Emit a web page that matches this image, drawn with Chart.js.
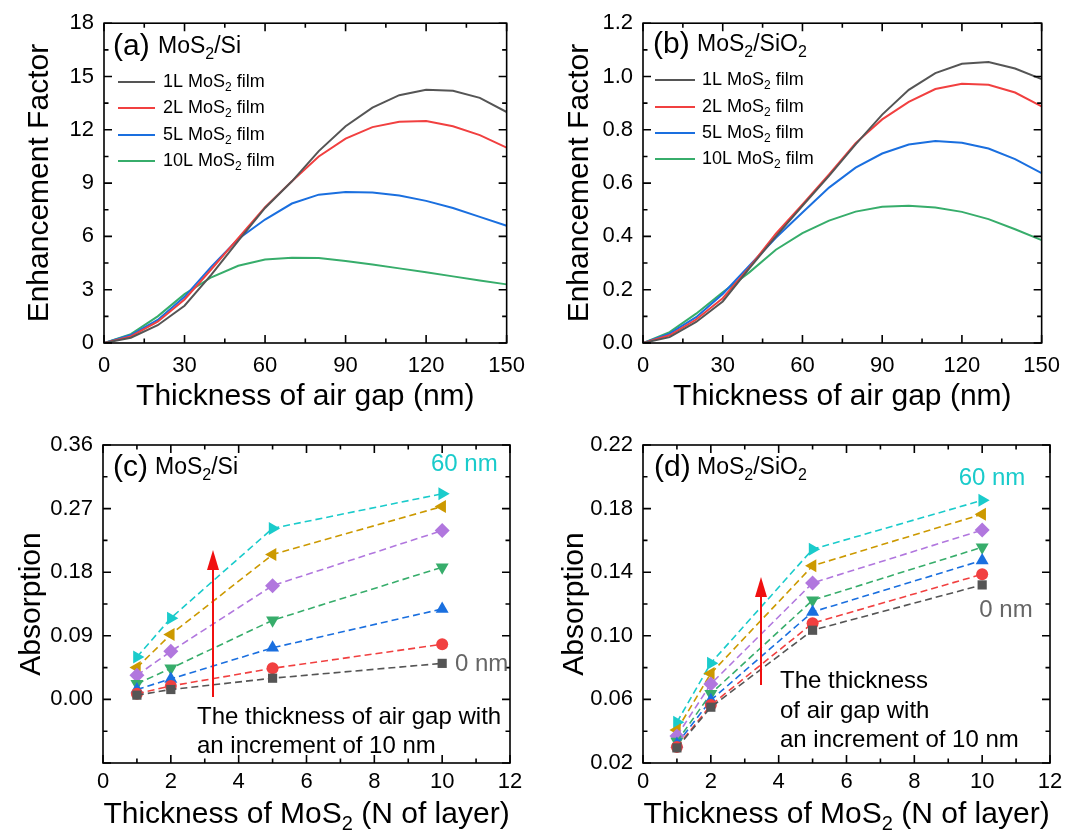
<!DOCTYPE html>
<html>
<head>
<meta charset="utf-8">
<script src="https://cdn.jsdelivr.net/npm/chart.js@4/dist/chart.umd.min.js"></script>
<style>
body { margin: 0; background: #fff; }
#wrap { position: relative; width: 1070px; height: 839px; }
canvas { position: absolute; }
</style>
</head>
<body>
<div id="wrap">
  <canvas id="cA" width="535" height="420" style="left:0;top:0"></canvas>
  <canvas id="cB" width="535" height="420" style="left:535px;top:0"></canvas>
  <canvas id="cC" width="535" height="419" style="left:0;top:420px"></canvas>
  <canvas id="cD" width="535" height="419" style="left:535px;top:420px"></canvas>
</div>
<script>
// ---- data ----
const gapNm = [0, 10, 20, 30, 40, 50, 60, 70, 80, 90, 100, 110, 120, 130, 140, 150];

// (a) MoS2/Si enhancement factor
const efSi1L  = [0, 0.3, 1.0, 2.1, 3.85, 5.75, 7.6, 9.1, 10.8, 12.2, 13.25, 13.95, 14.25, 14.2, 13.8, 13.0];
const efSi2L  = [0, 0.37, 1.2, 2.45, 4.15, 5.9, 7.65, 9.1, 10.5, 11.5, 12.15, 12.45, 12.5, 12.2, 11.7, 11.0];
const efSi5L  = [0, 0.45, 1.3, 2.6, 4.3, 5.85, 6.95, 7.85, 8.35, 8.5, 8.47, 8.3, 8.0, 7.6, 7.1, 6.6];
const efSi10L = [0, 0.5, 1.5, 2.75, 3.7, 4.35, 4.7, 4.8, 4.78, 4.62, 4.42, 4.2, 3.98, 3.75, 3.52, 3.3];

// (b) MoS2/SiO2 enhancement factor
const efOx1L  = [0, 0.022, 0.079, 0.156, 0.28, 0.40, 0.515, 0.627, 0.745, 0.857, 0.95, 1.013, 1.048, 1.054, 1.03, 0.99];
const efOx2L  = [0, 0.029, 0.088, 0.168, 0.284, 0.41, 0.52, 0.633, 0.75, 0.839, 0.905, 0.953, 0.973, 0.969, 0.94, 0.888];
const efOx5L  = [0, 0.035, 0.097, 0.184, 0.29, 0.395, 0.49, 0.583, 0.658, 0.711, 0.745, 0.758, 0.751, 0.73, 0.69, 0.637];
const efOx10L = [0, 0.041, 0.11, 0.19, 0.265, 0.35, 0.412, 0.459, 0.493, 0.511, 0.515, 0.508, 0.492, 0.465, 0.427, 0.386];

// (c)/(d) absorption vs number of layers, air gap 0..60 nm
const layerN = [1, 2, 5, 10];
const absSi0  = [0.006, 0.014, 0.030, 0.051];
const absSi10 = [0.008, 0.019, 0.044, 0.078];
const absSi20 = [0.014, 0.029, 0.073, 0.128];
const absSi30 = [0.022, 0.044, 0.112, 0.187];
const absSi40 = [0.034, 0.068, 0.161, 0.239];
const absSi50 = [0.045, 0.092, 0.205, 0.273];
const absSi60 = [0.060, 0.115, 0.242, 0.291];

const absOx0  = [0.0295, 0.0551, 0.1035, 0.132];
const absOx10 = [0.0300, 0.0564, 0.1079, 0.1387];
const absOx20 = [0.0320, 0.0595, 0.115, 0.1474];
const absOx30 = [0.0335, 0.0636, 0.1224, 0.1557];
const absOx40 = [0.037, 0.0697, 0.1332, 0.1665];
const absOx50 = [0.0408, 0.0763, 0.144, 0.1765];
const absOx60 = [0.0456, 0.0828, 0.1544, 0.1852];

// tick labels
const tickGap = [0, 30, 60, 90, 120, 150];
const tickEfSi = [0, 3, 6, 9, 12, 15, 18];
const tickEfOx = [0, 0.2, 0.4, 0.6, 0.8, 1.0, 1.2];
const tickLayer = [0, 2, 4, 6, 8, 10, 12];
const tickAbsSi = [-0.09, 0, 0.09, 0.18, 0.27, 0.36];
const tickAbsOx = [0.02, 0.06, 0.10, 0.14, 0.18, 0.22];

const filmLabels = ['1L MoS_2 film', '2L MoS_2 film', '5L MoS_2 film', '10L MoS_2 film'];

// ---- styles ----
const FF = "'Liberation Sans', Arial, Helvetica, sans-serif";
Chart.defaults.font.family = FF;
Chart.defaults.color = '#000';

const lineColors = ['#555555', '#F14040', '#1A6FDF', '#37AD6B'];
const gapColors = ['#555555', '#F14040', '#1A6FDF', '#37AD6B', '#B177DE', '#CC9900', '#1ACBCB'];
const gapMarks = [
  {style: 'rect', r: 6.5, rot: 0},
  {style: 'circle', r: 6, rot: 0},
  {style: 'triangle', r: 7.5, rot: 0},
  {style: 'triangle', r: 7.5, rot: 180},
  {style: 'rectRot', r: 7.5, rot: 0},
  {style: 'triangle', r: 7.5, rot: 270},
  {style: 'triangle', r: 7.5, rot: 90}
];

function pts(xs, ys) { return xs.map((x, i) => ({x: x, y: ys[i]})); }

// text with "_2" style subscripts
function richText(ctx, str, x, y, size, color, align) {
  const parts = str.split(/(_\d)/).filter(Boolean)
    .map(p => p[0] === '_' ? {t: p.slice(1), sub: true} : {t: p, sub: false});
  const fnt = p => (p.sub ? Math.round(size * 0.68) : size) + 'px ' + FF;
  let w = 0;
  for (const p of parts) { ctx.font = fnt(p); w += ctx.measureText(p.t).width; }
  if (align === 'center') x -= w / 2;
  ctx.fillStyle = color || '#000';
  ctx.textAlign = 'left';
  ctx.textBaseline = 'middle';
  for (const p of parts) {
    ctx.font = fnt(p);
    ctx.fillText(p.t, x, p.sub ? y + size * 0.32 : y);
    x += ctx.measureText(p.t).width;
  }
}

function arrowUp(ctx, x, y0, y1) {
  ctx.strokeStyle = '#F01010';
  ctx.fillStyle = '#F01010';
  ctx.lineWidth = 2;
  ctx.beginPath();
  ctx.moveTo(x, y0);
  ctx.lineTo(x, y1 + 18);
  ctx.stroke();
  ctx.beginPath();
  ctx.moveTo(x, y1);
  ctx.lineTo(x - 6, y1 + 20);
  ctx.lineTo(x + 6, y1 + 20);
  ctx.closePath();
  ctx.fill();
}

// box frame, inward ticks on all four sides, plus extra drawing
function frameFor(id, extra) {
  return {
    id: id,
    afterDraw(chart) {
      const ctx = chart.ctx, a = chart.chartArea;
      const x = chart.scales.x, y = chart.scales.y;
      const mid = v => v.slice(1).map((b, i) => (v[i] + b) / 2);
      const xt = x.ticks.map(t => t.value), yt = y.ticks.map(t => t.value);
      ctx.save();
      ctx.strokeStyle = '#000';
      ctx.lineWidth = 1.6;
      ctx.strokeRect(a.left, a.top, a.right - a.left, a.bottom - a.top);
      ctx.beginPath();
      [[xt, 8], [mid(xt), 4.5]].forEach(([vals, len]) => vals.forEach(v => {
        const p = x.getPixelForValue(v);
        ctx.moveTo(p, a.bottom); ctx.lineTo(p, a.bottom - len);
        ctx.moveTo(p, a.top); ctx.lineTo(p, a.top + len);
      }));
      [[yt, 8], [mid(yt), 4.5]].forEach(([vals, len]) => vals.forEach(v => {
        const p = y.getPixelForValue(v);
        ctx.moveTo(a.left, p); ctx.lineTo(a.left + len, p);
        ctx.moveTo(a.right, p); ctx.lineTo(a.right - len, p);
      }));
      ctx.stroke();
      extra(ctx, chart);
      ctx.restore();
    }
  };
}

function axis(min, max, ticks, size, fmt, pad, title, titlePad) {
  return {
    type: 'linear', min: min, max: max,
    afterBuildTicks: s => { s.ticks = ticks.map(v => ({value: v})); },
    afterFit: s => { if (s.isHorizontal()) s.height = size; else s.width = size; },
    grid: {display: false, drawTicks: false},
    border: {display: false},
    ticks: {font: {size: 22}, color: '#000', padding: pad, callback: fmt},
    title: title ? {display: true, text: title, font: {size: 30}, color: '#000', padding: titlePad} : {display: false}
  };
}

function baseOptions(padding, scales) {
  return {
    responsive: false,
    animation: false,
    layout: {padding: padding},
    plugins: {legend: {display: false}, tooltip: {enabled: false}},
    scales: scales
  };
}

function lineSets(series) {
  return series.map((s, i) => ({
    label: filmLabels[i],
    data: pts(gapNm, s),
    borderColor: lineColors[i],
    borderWidth: 2,
    pointRadius: 0,
    tension: 0,
    fill: false
  }));
}

function markSets(series) {
  return series.map((s, i) => ({
    label: (i * 10) + ' nm',
    data: pts(layerN, s),
    borderColor: gapColors[i],
    backgroundColor: gapColors[i],
    borderWidth: 1.6,
    borderDash: [7, 4],
    pointStyle: gapMarks[i].style,
    rotation: gapMarks[i].rot,
    pointRadius: gapMarks[i].r,
    pointBorderWidth: 0,
    pointBackgroundColor: gapColors[i],
    pointBorderColor: gapColors[i],
    tension: 0,
    fill: false
  }));
}

function legend(ctx, x0, x1, tx, ys) {
  filmLabels.forEach((t, i) => {
    ctx.strokeStyle = lineColors[i];
    ctx.lineWidth = 2;
    ctx.beginPath();
    ctx.moveTo(x0, ys[i]);
    ctx.lineTo(x1, ys[i]);
    ctx.stroke();
    richText(ctx, t, tx, ys[i], 18, '#000');
  });
}

// (a)
new Chart(document.getElementById('cA'), {
  type: 'line',
  data: {datasets: lineSets([efSi1L, efSi2L, efSi5L, efSi10L])},
  options: baseOptions({top: 21, right: 26, left: 0, bottom: 0}, {
    x: axis(0, 150, tickGap, 77, v => String(v), 10, 'Thickness of air gap (nm)', {bottom: 5}),
    y: axis(0, 18, tickEfSi, 104, v => String(v), 10, 'Enhancement Factor', {top: 22})
  }),
  plugins: [frameFor('fa', (ctx) => {
    richText(ctx, '(a)', 113, 47, 30, '#000');
    richText(ctx, 'MoS_2/Si', 158, 47, 23, '#000');
    legend(ctx, 118, 155, 163, [82, 108, 135, 161]);
  })]
});

// (b)
new Chart(document.getElementById('cB'), {
  type: 'line',
  data: {datasets: lineSets([efOx1L, efOx2L, efOx5L, efOx10L])},
  options: baseOptions({top: 22, right: 21, left: 0, bottom: 0}, {
    x: axis(0, 150, tickGap, 77, v => String(v), 10, 'Thickness of air gap (nm)', {bottom: 5}),
    y: axis(0, 1.2, tickEfOx, 108, v => v.toFixed(1), 10, 'Enhancement Factor', {top: 27})
  }),
  plugins: [frameFor('fb', (ctx) => {
    richText(ctx, '(b)', 118, 45, 30, '#000');
    richText(ctx, 'MoS_2/SiO_2', 162, 45, 23, '#000');
    legend(ctx, 120, 160, 167, [80, 107, 133, 159]);
  })]
});

// (c)
new Chart(document.getElementById('cC'), {
  type: 'line',
  data: {datasets: markSets([absSi0, absSi10, absSi20, absSi30, absSi40, absSi50, absSi60])},
  options: baseOptions({top: 25, right: 25, left: 0, bottom: 0}, {
    x: axis(0, 12, tickLayer, 76, v => String(v), 6, null),
    y: axis(-0.09, 0.36, tickAbsSi, 103, v => v < 0 ? '' : v.toFixed(2), 10, 'Absorption', {top: 14})
  }),
  plugins: [frameFor('fc', (ctx, chart) => {
    const a = chart.chartArea;
    richText(ctx, '(c)', 113, 48, 30, '#000');
    richText(ctx, 'MoS_2/Si', 155, 48, 23, '#000');
    richText(ctx, '60 nm', 431, 44, 24, '#1ACBCB');
    richText(ctx, '0 nm', 455, 244, 24, '#666666');
    arrowUp(ctx, 213, 277, 130);
    richText(ctx, 'The thickness of air gap with', 197, 297, 24, '#000');
    richText(ctx, 'an increment of 10 nm', 197, 326, 24, '#000');
    richText(ctx, 'Thickness of MoS_2 (N of layer)', (a.left + a.right) / 2, 395, 30, '#000', 'center');
  })]
});

// (d)
new Chart(document.getElementById('cD'), {
  type: 'line',
  data: {datasets: markSets([absOx0, absOx10, absOx20, absOx30, absOx40, absOx50, absOx60])},
  options: baseOptions({top: 25, right: 20, left: 0, bottom: 0}, {
    x: axis(0, 12, tickLayer, 76, v => String(v), 6, null),
    y: axis(0.02, 0.22, tickAbsOx, 108, v => v.toFixed(2), 10, 'Absorption', {top: 22})
  }),
  plugins: [frameFor('fd', (ctx, chart) => {
    const a = chart.chartArea;
    richText(ctx, '(d)', 119, 48, 30, '#000');
    richText(ctx, 'MoS_2/SiO_2', 162, 48, 23, '#000');
    richText(ctx, '60 nm', 457, 58, 24, '#1ACBCB', 'center');
    richText(ctx, '0 nm', 471, 190, 24, '#666666', 'center');
    arrowUp(ctx, 226, 265, 157);
    richText(ctx, 'The thickness', 245, 261, 24, '#000');
    richText(ctx, 'of air gap with', 245, 291, 24, '#000');
    richText(ctx, 'an increment of 10 nm', 245, 320, 24, '#000');
    richText(ctx, 'Thickness of MoS_2 (N of layer)', (a.left + a.right) / 2, 395, 30, '#000', 'center');
  })]
});
</script>
</body>
</html>
